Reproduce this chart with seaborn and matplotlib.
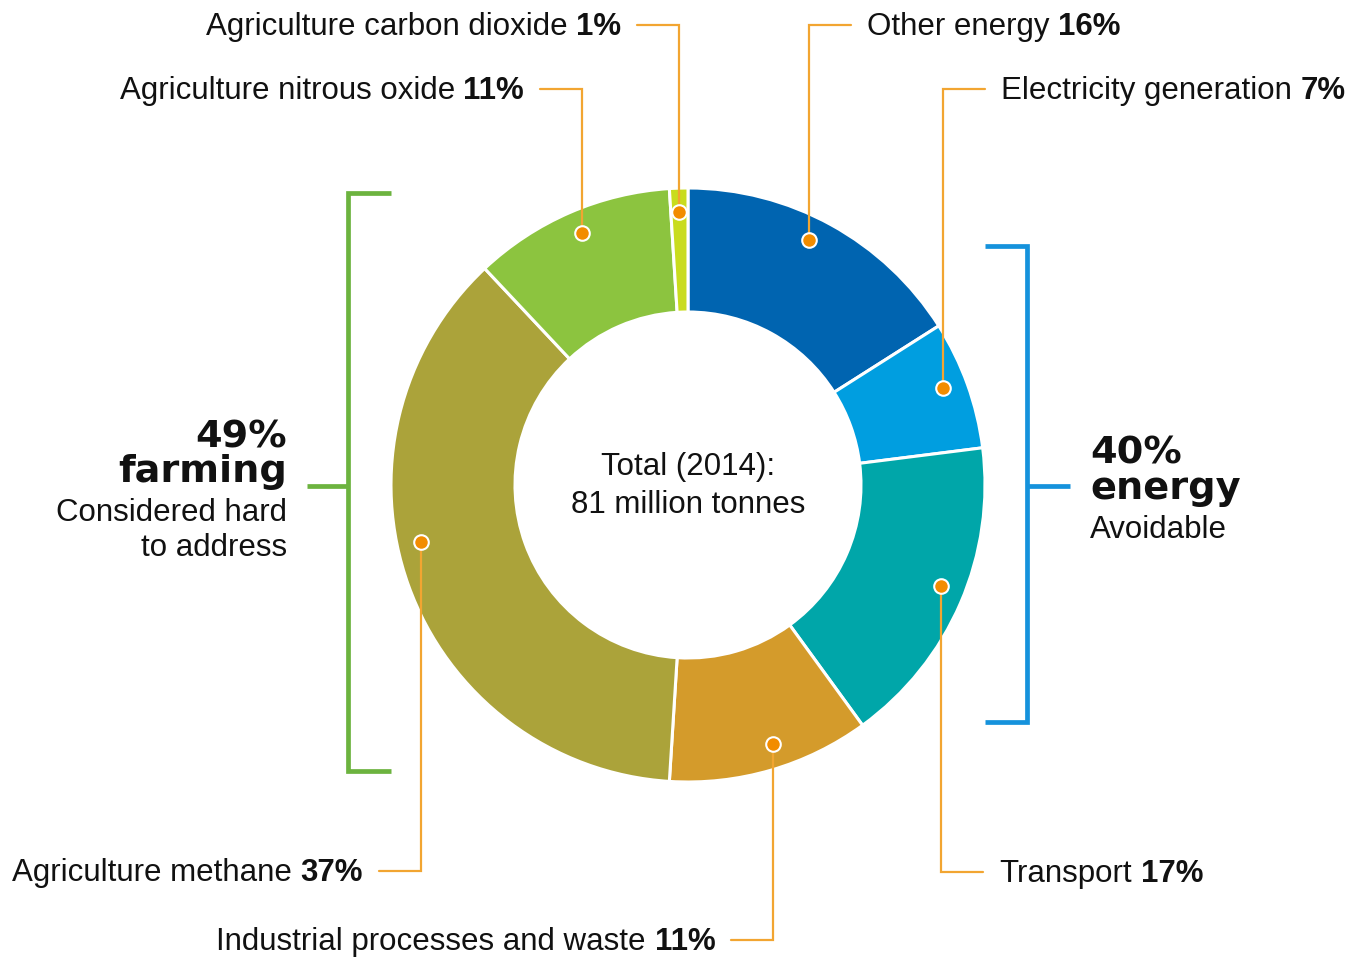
import matplotlib
matplotlib.use("Agg")
import matplotlib.pyplot as plt
import seaborn as sns
import numpy as np

# ---------------- data ----------------
categories = ["Other energy", "Electricity generation", "Transport",
              "Industrial processes and waste", "Agriculture methane",
              "Agriculture nitrous oxide", "Agriculture carbon dioxide"]
shares = [16, 7, 17, 11, 37, 11, 1]
seg_colors = ["#0064b0", "#009ee0", "#00a6a9", "#d49b2b",
              "#aba33a", "#8cc43f", "#c9dc1e"]
center_text = ["Total (2014):", "81 million tonnes"]
farming_text = ["49%", "farming", "Considered hard", "to address"]
energy_text = ["40%", "energy", "Avoidable"]

# ---------------- layout (pixels, y from top) ----------------
W, H = 1354, 957
CXp, CYp = 688, 485
R_OUT, R_IN, R_DOT = 297, 173, 273
# side of label, y of leader elbow (from top), angle tweak (deg)
label_layout = {
    "Other energy": ("right", 25, 2.5),
    "Electricity generation": ("right", 89, 1.0),
    "Transport": ("right", 872, 1.6),
    "Industrial processes and waste": ("left", 940, 2.0),
    "Agriculture methane": ("left", 871, -7.8),
    "Agriculture nitrous oxide": ("left", 89, -0.6),
    "Agriculture carbon dioxide": ("left", 25, 0),
}

sns.set_theme(style="white")
plt.rcParams["font.family"] = ["Liberation Sans", "DejaVu Sans"]

FS = 22.5
HEAVY = dict(family="DejaVu Sans", fontweight="bold", fontsize=27.5)
LEADER = "#f2a531"
DOT = "#f28c00"
GREEN = "#6cb33f"
BLUE = "#1592dc"
TXT = "#111111"


def Y(py):
    return H - py


fig = plt.figure(figsize=(W / 100, H / 100), dpi=100)
ax = fig.add_axes([0, 0, 1, 1])
CX, CY = CXp, Y(CYp)

wedges, _ = ax.pie(shares, colors=seg_colors, startangle=90, counterclock=False,
                   radius=R_OUT, center=(CX, CY),
                   wedgeprops=dict(width=R_OUT - R_IN, edgecolor="white",
                                   linewidth=2.2))
ax.set_xlim(0, W)
ax.set_ylim(0, H)
ax.set_aspect("equal")
ax.axis("off")

renderer = fig.canvas.get_renderer()
SPACE = 0.278 * FS * 100 / 72


def mixed(x, y, normal, bold, side):
    if side == "right":
        t = ax.text(x, y, normal, ha="left", va="baseline", fontsize=FS, color=TXT)
        w = t.get_window_extent(renderer).width
        ax.text(x + w + SPACE, y, bold, ha="left", va="baseline", fontsize=FS,
                fontweight="bold", color=TXT)
    else:
        t = ax.text(x, y, bold, ha="right", va="baseline", fontsize=FS,
                    fontweight="bold", color=TXT)
        w = t.get_window_extent(renderer).width
        ax.text(x - w - SPACE, y, normal, ha="right", va="baseline", fontsize=FS,
                color=TXT)


for w, cat, val in zip(wedges, categories, shares):
    side, ly, tweak = label_layout[cat]
    a = np.deg2rad((w.theta1 + w.theta2) / 2 + tweak)
    dx = CX + R_DOT * np.cos(a)
    dy = CY + R_DOT * np.sin(a)
    hx = dx + (42 if side == "right" else -42)
    ax.plot([dx, dx, hx], [dy, Y(ly), Y(ly)], color=LEADER, lw=1.6,
            solid_joinstyle="miter", zorder=3)
    ax.scatter([dx], [dy], s=110, color=DOT, edgecolor="white", linewidth=1.5,
               zorder=4)
    tx = hx + (16 if side == "right" else -16)
    mixed(tx, Y(ly) - 10, cat, f"{val}%", side)

# centre text
ax.text(CX, Y(475), center_text[0], ha="center", va="baseline", fontsize=FS, color=TXT)
ax.text(CX, Y(513), center_text[1], ha="center", va="baseline", fontsize=FS, color=TXT)

# green bracket (farming)
ax.plot([391, 348, 348, 391], [Y(193), Y(193), Y(771), Y(771)], color=GREEN,
        lw=3.4, solid_joinstyle="miter", solid_capstyle="butt")
ax.plot([307, 348], [Y(486), Y(486)], color=GREEN, lw=3.4, solid_capstyle="butt")

# blue bracket (energy)
ax.plot([985, 1027, 1027, 985], [Y(246), Y(246), Y(722), Y(722)], color=BLUE,
        lw=3.4, solid_joinstyle="miter", solid_capstyle="butt")
ax.plot([1027, 1070], [Y(486), Y(486)], color=BLUE, lw=3.4, solid_capstyle="butt")

# group texts
ax.text(287, Y(447), farming_text[0], ha="right", va="baseline", color=TXT, **HEAVY)
ax.text(287, Y(482), farming_text[1], ha="right", va="baseline", color=TXT, **HEAVY)
ax.text(287, Y(521), farming_text[2], ha="right", va="baseline", fontsize=FS, color=TXT)
ax.text(287, Y(556), farming_text[3], ha="right", va="baseline", fontsize=FS, color=TXT)

ax.text(1090, Y(463), energy_text[0], ha="left", va="baseline", color=TXT, **HEAVY)
ax.text(1090, Y(499), energy_text[1], ha="left", va="baseline", color=TXT, **HEAVY)
ax.text(1090, Y(538), energy_text[2], ha="left", va="baseline", fontsize=FS, color=TXT)

fig.savefig("out.png", dpi=100, facecolor="white")
